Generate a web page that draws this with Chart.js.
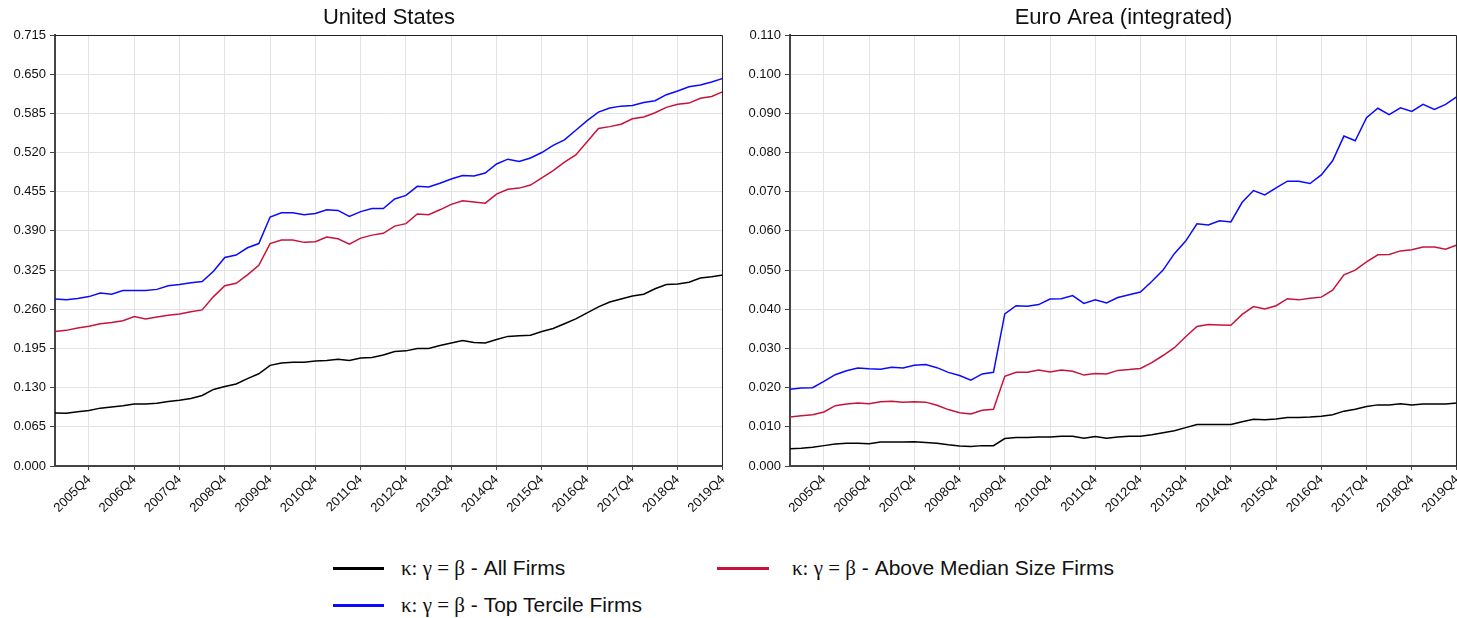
<!DOCTYPE html>
<html lang="en">
<head>
  <meta charset="UTF-8" />
  <title>Kappa: United States vs Euro Area</title>
  <script src="https://cdn.jsdelivr.net/npm/chart.js"></script>
  <style>
    html, body { margin: 0; padding: 0; background: #fff; overflow: hidden; }
    body { width: 1457px; height: 618px; position: relative; font-family: "Liberation Sans", Arial, sans-serif; }
    .panel { position: absolute; top: 0; height: 530px; }
    .legend-item { position: absolute; display: flex; align-items: center; font-size: 21px; color: #111; white-space: nowrap; }
    .legend-item .swatch { display: inline-block; height: 3px; margin-right: 17px; }
    .gr { font-family: "Liberation Serif", "DejaVu Serif", serif; }
  </style>
</head>
<body>
  <div class="panel" style="left:0; width:736px"><canvas id="usChart"></canvas></div>
  <div class="panel" style="left:735px; width:735px"><canvas id="euChart"></canvas></div>

  <div class="legend-item" style="left:333px; top:556px"><span class="swatch" style="width:51px; background:#000"></span><span><span class="gr">κ: γ = β</span> - All Firms</span></div>
  <div class="legend-item" style="left:717px; top:556px"><span class="swatch" style="width:52px; background:#c8143c; margin-right:23px"></span><span><span class="gr">κ: γ = β</span> - Above Median Size Firms</span></div>
  <div class="legend-item" style="left:333px; top:593px"><span class="swatch" style="width:51px; background:#0a0aff"></span><span><span class="gr">κ: γ = β</span> - Top Tercile Firms</span></div>

  <script>
    // quarters 2005Q1 .. 2019Q4
    const years = [2005, 2006, 2007, 2008, 2009, 2010, 2011, 2012, 2013, 2014, 2015, 2016, 2017, 2018, 2019];
    const quarters = [];
    years.forEach(y => { for (let q = 1; q <= 4; q++) quarters.push(y + 'Q' + q); });

    const usTicks = [0.000, 0.065, 0.130, 0.195, 0.260, 0.325, 0.390, 0.455, 0.520, 0.585, 0.650, 0.715];
    const euTicks = [0.000, 0.010, 0.020, 0.030, 0.040, 0.050, 0.060, 0.070, 0.080, 0.090, 0.100, 0.110];

    const usAll = [0.088, 0.0876, 0.090, 0.092, 0.096, 0.098, 0.100, 0.103, 0.103, 0.104, 0.107, 0.109,
      0.112, 0.117, 0.127, 0.132, 0.136, 0.145, 0.153, 0.167, 0.171, 0.172, 0.172, 0.174,
      0.175, 0.177, 0.175, 0.179, 0.180, 0.184, 0.190, 0.191, 0.195, 0.195, 0.200, 0.204,
      0.208, 0.205, 0.204, 0.210, 0.215, 0.216, 0.217, 0.223, 0.228, 0.236, 0.244, 0.254,
      0.264, 0.272, 0.277, 0.282, 0.285, 0.294, 0.301, 0.302, 0.305, 0.312, 0.314, 0.317];
    const usAbove = [0.223, 0.225, 0.229, 0.232, 0.236, 0.238, 0.241, 0.248, 0.244, 0.247, 0.250, 0.252,
      0.256, 0.259, 0.281, 0.299, 0.303, 0.317, 0.333, 0.369, 0.375, 0.375, 0.371, 0.372,
      0.380, 0.377, 0.368, 0.378, 0.383, 0.386, 0.398, 0.402, 0.418, 0.417, 0.425, 0.434,
      0.440, 0.438, 0.436, 0.451, 0.459, 0.461, 0.466, 0.478, 0.490, 0.504, 0.516, 0.538,
      0.560, 0.563, 0.567, 0.576, 0.579, 0.586, 0.595, 0.600, 0.602, 0.610, 0.613, 0.621];
    const usTop = [0.277, 0.276, 0.278, 0.281, 0.287, 0.285, 0.291, 0.291, 0.291, 0.293, 0.299, 0.301,
      0.304, 0.306, 0.323, 0.346, 0.350, 0.362, 0.369, 0.413, 0.420, 0.420, 0.417, 0.419,
      0.425, 0.424, 0.414, 0.422, 0.427, 0.427, 0.443, 0.449, 0.464, 0.463, 0.469, 0.476,
      0.482, 0.481, 0.486, 0.501, 0.509, 0.505, 0.511, 0.520, 0.532, 0.541, 0.557, 0.573,
      0.587, 0.594, 0.597, 0.598, 0.603, 0.606, 0.616, 0.622, 0.629, 0.632, 0.637, 0.643];

    const euAll = [0.0044, 0.0045, 0.0048, 0.0052, 0.0056, 0.0058, 0.0058, 0.0057, 0.0061, 0.0061, 0.0061, 0.0062,
      0.0060, 0.0058, 0.0054, 0.0051, 0.0050, 0.0052, 0.0052, 0.0070, 0.0073, 0.0073, 0.0074, 0.0074,
      0.0076, 0.0076, 0.0071, 0.0075, 0.0071, 0.0074, 0.0076, 0.0076, 0.0080, 0.0085, 0.0090, 0.0098,
      0.0106, 0.0106, 0.0106, 0.0106, 0.0113, 0.0119, 0.0118, 0.0120, 0.0124, 0.0124, 0.0125, 0.0127,
      0.0131, 0.0140, 0.0145, 0.0152, 0.0156, 0.0156, 0.0159, 0.0156, 0.0158, 0.0158, 0.0158, 0.0161];
    const euAbove = [0.0125, 0.0128, 0.0131, 0.0138, 0.0154, 0.0158, 0.0161, 0.0159, 0.0164, 0.0165, 0.0163, 0.0164,
      0.0163, 0.0155, 0.0144, 0.0136, 0.0133, 0.0142, 0.0145, 0.0229, 0.0239, 0.0239, 0.0245, 0.0240,
      0.0245, 0.0242, 0.0232, 0.0236, 0.0235, 0.0244, 0.0246, 0.0249, 0.0264, 0.0282, 0.0302, 0.0330,
      0.0356, 0.0361, 0.0360, 0.0359, 0.0387, 0.0407, 0.0401, 0.0409, 0.0427, 0.0424, 0.0428, 0.0431,
      0.0449, 0.0488, 0.0500, 0.0521, 0.0539, 0.0540, 0.0549, 0.0552, 0.0559, 0.0559, 0.0553, 0.0564];
    const euTop = [0.0196, 0.0199, 0.0200, 0.0216, 0.0233, 0.0243, 0.0250, 0.0248, 0.0247, 0.0252, 0.0250, 0.0257,
      0.0259, 0.0251, 0.0239, 0.0231, 0.0219, 0.0235, 0.0239, 0.0388, 0.0409, 0.0408, 0.0412, 0.0426,
      0.0427, 0.0435, 0.0415, 0.0424, 0.0416, 0.0430, 0.0437, 0.0444, 0.0471, 0.0500, 0.0542, 0.0574,
      0.0618, 0.0615, 0.0626, 0.0623, 0.0673, 0.0703, 0.0692, 0.0710, 0.0727, 0.0727, 0.0721, 0.0743,
      0.0779, 0.0842, 0.0830, 0.0889, 0.0913, 0.0897, 0.0914, 0.0905, 0.0923, 0.0910, 0.0923, 0.0943];

    const colAll = '#000000';
    const colAbove = '#c8143c';
    const colTop = '#0a0aff';
    const gridCol = '#e3e3e3';

    // thin black frame on top and right, title centred over the plot area
    const framePlugin = {
      id: 'frame',
      afterDraw(chart) {
        const a = chart.chartArea, c = chart.ctx;
        c.save();
        c.strokeStyle = '#222';
        c.lineWidth = 1;
        c.beginPath();
        c.moveTo(a.left, a.top + 0.5);
        c.lineTo(a.right - 0.5, a.top + 0.5);
        c.lineTo(a.right - 0.5, a.bottom);
        c.stroke();
        c.fillStyle = '#111';
        c.font = '22px "Liberation Sans"';
        c.textAlign = 'center';
        c.textBaseline = 'middle';
        c.fillText(chart.options.plugins.frame.title, (a.left + a.right) / 2, 18);
        c.restore();
      }
    };

    function makeChart(id, title, tickVals, maxVal, all, above, top) {
      const isQ4 = i => quarters[i].endsWith('Q4');
      return new Chart(document.getElementById(id), {
        type: 'line',
        data: {
          labels: quarters,
          datasets: [
            { label: 'All Firms', data: all, borderColor: colAll },
            { label: 'Above Median Size Firms', data: above, borderColor: colAbove },
            { label: 'Top Tercile Firms', data: top, borderColor: colTop }
          ]
        },
        options: {
          responsive: false,
          animation: false,
          events: [],
          elements: {
            line: { borderWidth: 1.5, tension: 0 },
            point: { radius: 0 }
          },
          layout: { padding: { left: 0, right: 0, top: 35, bottom: 0 } },
          plugins: {
            legend: { display: false },
            tooltip: { enabled: false },
            title: { display: false },
            frame: { title: title }
          },
          scales: {
            x: {
              type: 'category',
              offset: false,
              grid: {
                color: ctx => (ctx.type === 'tick' && isQ4(ctx.index)) ? gridCol : 'rgba(0,0,0,0)',
                tickColor: ctx => isQ4(ctx.index) ? '#444' : 'rgba(0,0,0,0)',
                tickLength: 4,
                drawOnChartArea: true
              },
              border: { color: '#444', width: 2 },
              ticks: {
                autoSkip: false,
                minRotation: 45,
                maxRotation: 45,
                padding: 2,
                color: '#111',
                font: { family: 'Liberation Sans', size: 13 },
                callback: (v, i) => isQ4(i) ? quarters[i] : ''
              },
              afterFit: s => { s.height = 64; }
            },
            y: {
              min: 0,
              max: maxVal,
              grid: { color: gridCol, tickColor: '#444', tickLength: 5 },
              border: { color: '#444', width: 2 },
              ticks: {
                padding: 4,
                color: '#111',
                font: { family: 'Liberation Sans', size: 13 },
                callback: v => v.toFixed(3)
              },
              afterBuildTicks: s => { s.ticks = tickVals.map(v => ({ value: v })); },
              afterFit: s => { s.width = 55; }
            }
          }
        },
        plugins: [framePlugin]
      });
    }

    function sizeCanvas(id, w) {
      const c = document.getElementById(id);
      c.width = w; c.height = 530;
      c.style.width = w + 'px'; c.style.height = '530px';
    }
    sizeCanvas('usChart', 736);
    sizeCanvas('euChart', 735);

    makeChart('usChart', 'United States', usTicks, 0.715, usAll, usAbove, usTop);
    makeChart('euChart', 'Euro Area (integrated)', euTicks, 0.110, euAll, euAbove, euTop);
  </script>
</body>
</html>
